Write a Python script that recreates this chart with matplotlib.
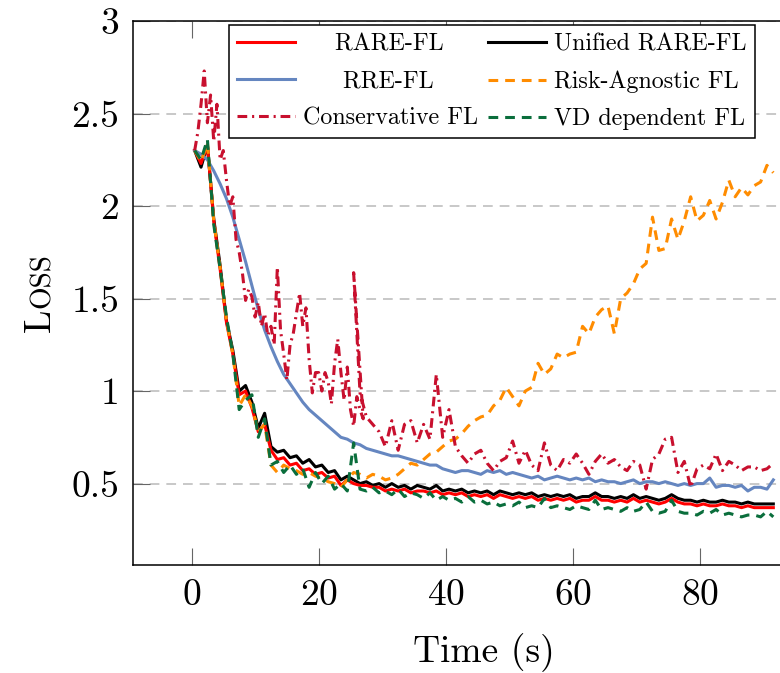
import numpy as np
import matplotlib.pyplot as plt
import matplotlib as mpl

mpl.rcParams['font.family'] = 'cmr10'
mpl.rcParams['mathtext.fontset'] = 'cm'
mpl.rcParams['axes.formatter.use_mathtext'] = True
mpl.rcParams['lines.scale_dashes'] = False

# loss values, one per second starting at t = 0.5 s
rare_fl = [2.30, 2.23, 2.33, 1.92, 1.66, 1.37, 1.20, 0.98, 1.00, 0.91, 0.78, 0.82, 0.68, 0.63, 0.64, 0.60, 0.61, 0.57, 0.58, 0.55,
           0.56, 0.53, 0.54, 0.49, 0.52, 0.50, 0.49, 0.49, 0.48, 0.48, 0.46, 0.47, 0.46, 0.47, 0.45, 0.46, 0.46, 0.45, 0.46, 0.44,
           0.45, 0.44, 0.45, 0.43, 0.44, 0.43, 0.44, 0.42, 0.44, 0.43, 0.42, 0.43, 0.42, 0.43, 0.41, 0.42, 0.41, 0.42, 0.41, 0.42,
           0.40, 0.41, 0.41, 0.43, 0.41, 0.41, 0.40, 0.41, 0.40, 0.42, 0.40, 0.41, 0.40, 0.39, 0.40, 0.42, 0.40, 0.39, 0.39, 0.38,
           0.39, 0.38, 0.38, 0.39, 0.38, 0.38, 0.37, 0.38, 0.37, 0.37, 0.37, 0.37]
unified = [2.30, 2.21, 2.33, 1.93, 1.68, 1.38, 1.22, 1.00, 1.03, 0.94, 0.80, 0.88, 0.70, 0.67, 0.68, 0.64, 0.65, 0.61, 0.63, 0.59,
           0.60, 0.56, 0.57, 0.52, 0.54, 0.52, 0.50, 0.51, 0.49, 0.50, 0.48, 0.50, 0.48, 0.49, 0.47, 0.49, 0.48, 0.47, 0.49, 0.46,
           0.47, 0.46, 0.47, 0.45, 0.46, 0.45, 0.46, 0.44, 0.46, 0.45, 0.44, 0.45, 0.44, 0.45, 0.43, 0.44, 0.43, 0.44, 0.43, 0.44,
           0.42, 0.43, 0.43, 0.45, 0.43, 0.43, 0.42, 0.43, 0.42, 0.44, 0.42, 0.43, 0.42, 0.41, 0.42, 0.44, 0.42, 0.41, 0.41, 0.40,
           0.41, 0.40, 0.40, 0.41, 0.40, 0.40, 0.39, 0.40, 0.39, 0.39, 0.39, 0.39]
rre_fl = [2.30, 2.28, 2.25, 2.19, 2.12, 2.04, 1.94, 1.82, 1.70, 1.57, 1.44, 1.33, 1.24, 1.16, 1.09, 1.04, 0.99, 0.94, 0.90, 0.87,
          0.84, 0.81, 0.78, 0.75, 0.74, 0.72, 0.71, 0.69, 0.68, 0.67, 0.66, 0.65, 0.65, 0.64, 0.63, 0.62, 0.61, 0.60, 0.60, 0.58,
          0.57, 0.56, 0.57, 0.57, 0.56, 0.55, 0.57, 0.56, 0.57, 0.55, 0.56, 0.55, 0.54, 0.53, 0.54, 0.52, 0.53, 0.54, 0.53, 0.52,
          0.53, 0.52, 0.53, 0.51, 0.52, 0.51, 0.51, 0.50, 0.51, 0.52, 0.50, 0.51, 0.51, 0.50, 0.51, 0.50, 0.49, 0.50, 0.49, 0.50,
          0.50, 0.53, 0.48, 0.49, 0.49, 0.48, 0.49, 0.46, 0.48, 0.48, 0.47, 0.52]
risk_agnostic = [2.30, 2.24, 2.34, 1.92, 1.67, 1.38, 1.20, 0.92, 0.98, 0.92, 0.78, 0.82, 0.60, 0.56, 0.60, 0.58, 0.57, 0.55, 0.56, 0.54,
                 0.53, 0.51, 0.50, 0.48, 0.52, 0.56, 0.55, 0.53, 0.55, 0.54, 0.52, 0.53, 0.55, 0.58, 0.61, 0.60, 0.63, 0.66, 0.67, 0.70,
                 0.73, 0.74, 0.77, 0.81, 0.84, 0.86, 0.87, 0.92, 0.95, 1.02, 0.97, 0.92, 1.00, 1.02, 1.15, 1.09, 1.12, 1.20, 1.18, 1.20,
                 1.21, 1.35, 1.31, 1.40, 1.44, 1.46, 1.31, 1.50, 1.53, 1.58, 1.66, 1.69, 1.94, 1.76, 1.77, 1.93, 1.82, 1.92, 2.05, 1.92,
                 1.95, 2.03, 1.93, 2.02, 2.14, 2.05, 2.10, 2.06, 2.11, 2.13, 2.22, 2.18]
vd_dependent = [2.30, 2.25, 2.36, 1.90, 1.66, 1.40, 1.20, 0.90, 0.95, 0.98, 0.75, 0.85, 0.60, 0.62, 0.56, 0.60, 0.55, 0.58, 0.48, 0.56,
                0.50, 0.54, 0.47, 0.50, 0.46, 0.72, 0.47, 0.46, 0.48, 0.45, 0.46, 0.44, 0.47, 0.43, 0.45, 0.44, 0.42, 0.45, 0.41, 0.43,
                0.41, 0.42, 0.40, 0.43, 0.40, 0.41, 0.39, 0.40, 0.38, 0.39, 0.38, 0.40, 0.37, 0.38, 0.37, 0.42, 0.37, 0.38, 0.37, 0.36,
                0.38, 0.37, 0.36, 0.41, 0.36, 0.37, 0.36, 0.35, 0.37, 0.35, 0.36, 0.40, 0.35, 0.34, 0.35, 0.41, 0.35, 0.34, 0.34, 0.33,
                0.35, 0.34, 0.36, 0.33, 0.34, 0.33, 0.32, 0.33, 0.33, 0.32, 0.35, 0.32]

# conservative FL: every 0.5 s up to 26 s, then every second
cons_early = [2.30, 2.40, 2.55, 2.73, 2.45, 2.60, 2.35, 2.55, 2.25, 2.30, 2.14, 2.00, 2.05, 1.82, 1.75, 1.64, 1.49, 1.55, 1.51, 1.40,
              1.48, 1.35, 1.42, 1.30, 1.35, 1.25, 1.67, 1.33, 1.20, 1.06, 1.25, 1.31, 1.42, 1.53, 1.35, 1.45, 1.17, 0.99, 1.10, 1.10,
              1.00, 1.10, 1.05, 0.93, 1.15, 1.28, 1.10, 0.95, 1.13, 0.90, 0.81, 0.97, 0.90, 0.85]
cons_late = [1.64, 0.99, 0.86, 0.82, 0.78, 0.70, 0.84, 0.68, 0.82, 0.84, 0.72, 0.82, 0.74, 1.09, 0.75,
             0.90, 0.70, 0.65, 0.61, 0.66, 0.68, 0.61, 0.57, 0.62, 0.64, 0.73, 0.61, 0.68, 0.60, 0.57, 0.72, 0.60, 0.57, 0.63, 0.61,
             0.66, 0.61, 0.55, 0.62, 0.66, 0.61, 0.63, 0.59, 0.57, 0.62, 0.60, 0.47, 0.63, 0.66, 0.74, 0.75, 0.56, 0.62, 0.48, 0.58,
             0.60, 0.58, 0.66, 0.57, 0.62, 0.60, 0.57, 0.59, 0.59, 0.57, 0.58, 0.61]
conservative = cons_early + cons_late

x_ticks = [0, 20, 40, 60, 80]
y_ticks = [0.5, 1, 1.5, 2, 2.5, 3]
y_labels = ['0.5', '1', '1.5', '2', '2.5', '3']

def tt(v):
    return np.arange(len(v)) + 0.5

t_cons = np.concatenate([np.arange(len(cons_early)) * 0.5 + 0.5, np.arange(len(cons_late)) + 25.5])

fig = plt.figure(figsize=(7.8, 6.73), dpi=100)
ax = fig.add_axes([133/780, 1-565/673, 702/780, 544/673])

lw = 2.2
l_un, = ax.plot(tt(unified), unified, color='black', lw=lw, label='Unified RARE-FL')
l_ra, = ax.plot(tt(rare_fl), rare_fl, color='red', lw=lw, label='    RARE-FL')
l_rr, = ax.plot(tt(rre_fl), rre_fl, color='#6586c0', lw=lw, label='     RRE-FL')
l_ag, = ax.plot(tt(risk_agnostic), risk_agnostic, color='#ff8c00', lw=lw, dashes=(7, 5), label='Risk-Agnostic FL')
l_co, = ax.plot(t_cons, conservative, color='#c8102e', lw=lw, dashes=(7, 3.5, 1.5, 3.5), label='Conservative FL')
l_vd, = ax.plot(tt(vd_dependent), vd_dependent, color='#0a6e3c', lw=lw, dashes=(7, 5), label='VD dependent FL')

ax.set_xlim(-9.2, 101.2); ax.set_ylim(0.06, 3)
ax.set_xticks(x_ticks); ax.set_yticks(y_ticks)
ax.set_yticklabels(y_labels)
ax.yaxis.grid(True, color='#c4c4c4', lw=1.3, dashes=(7, 5))
ax.tick_params(direction='in', length=12, width=0.8, color='#666666', labelsize=27, top=True, right=True, pad=10)
for s in ax.spines.values():
    s.set_linewidth(1.1)
ax.set_xlabel('Time (s)', fontsize=27, labelpad=15)

# small caps y label
fig.text(50/780, 341/673, 'L', rotation=90, rotation_mode='anchor', ha='left', va='baseline', fontsize=27)
fig.text(50/780, 365/673, 'OSS', rotation=90, rotation_mode='anchor', ha='left', va='baseline', fontsize=21)

leg = ax.legend(handles=[l_ra, l_rr, l_co, l_un, l_ag, l_vd], ncol=2, loc='upper right',
                bbox_to_anchor=(755/780, 1-25/673), bbox_transform=fig.transFigure, borderaxespad=0,
                fontsize=17.3, fancybox=False, framealpha=1, edgecolor='black', handlelength=2.4,
                labelspacing=0.62, columnspacing=0.4, handletextpad=0.35, borderpad=0.35)
leg.get_frame().set_linewidth(1.1)

fig.savefig('out.png', dpi=100)
